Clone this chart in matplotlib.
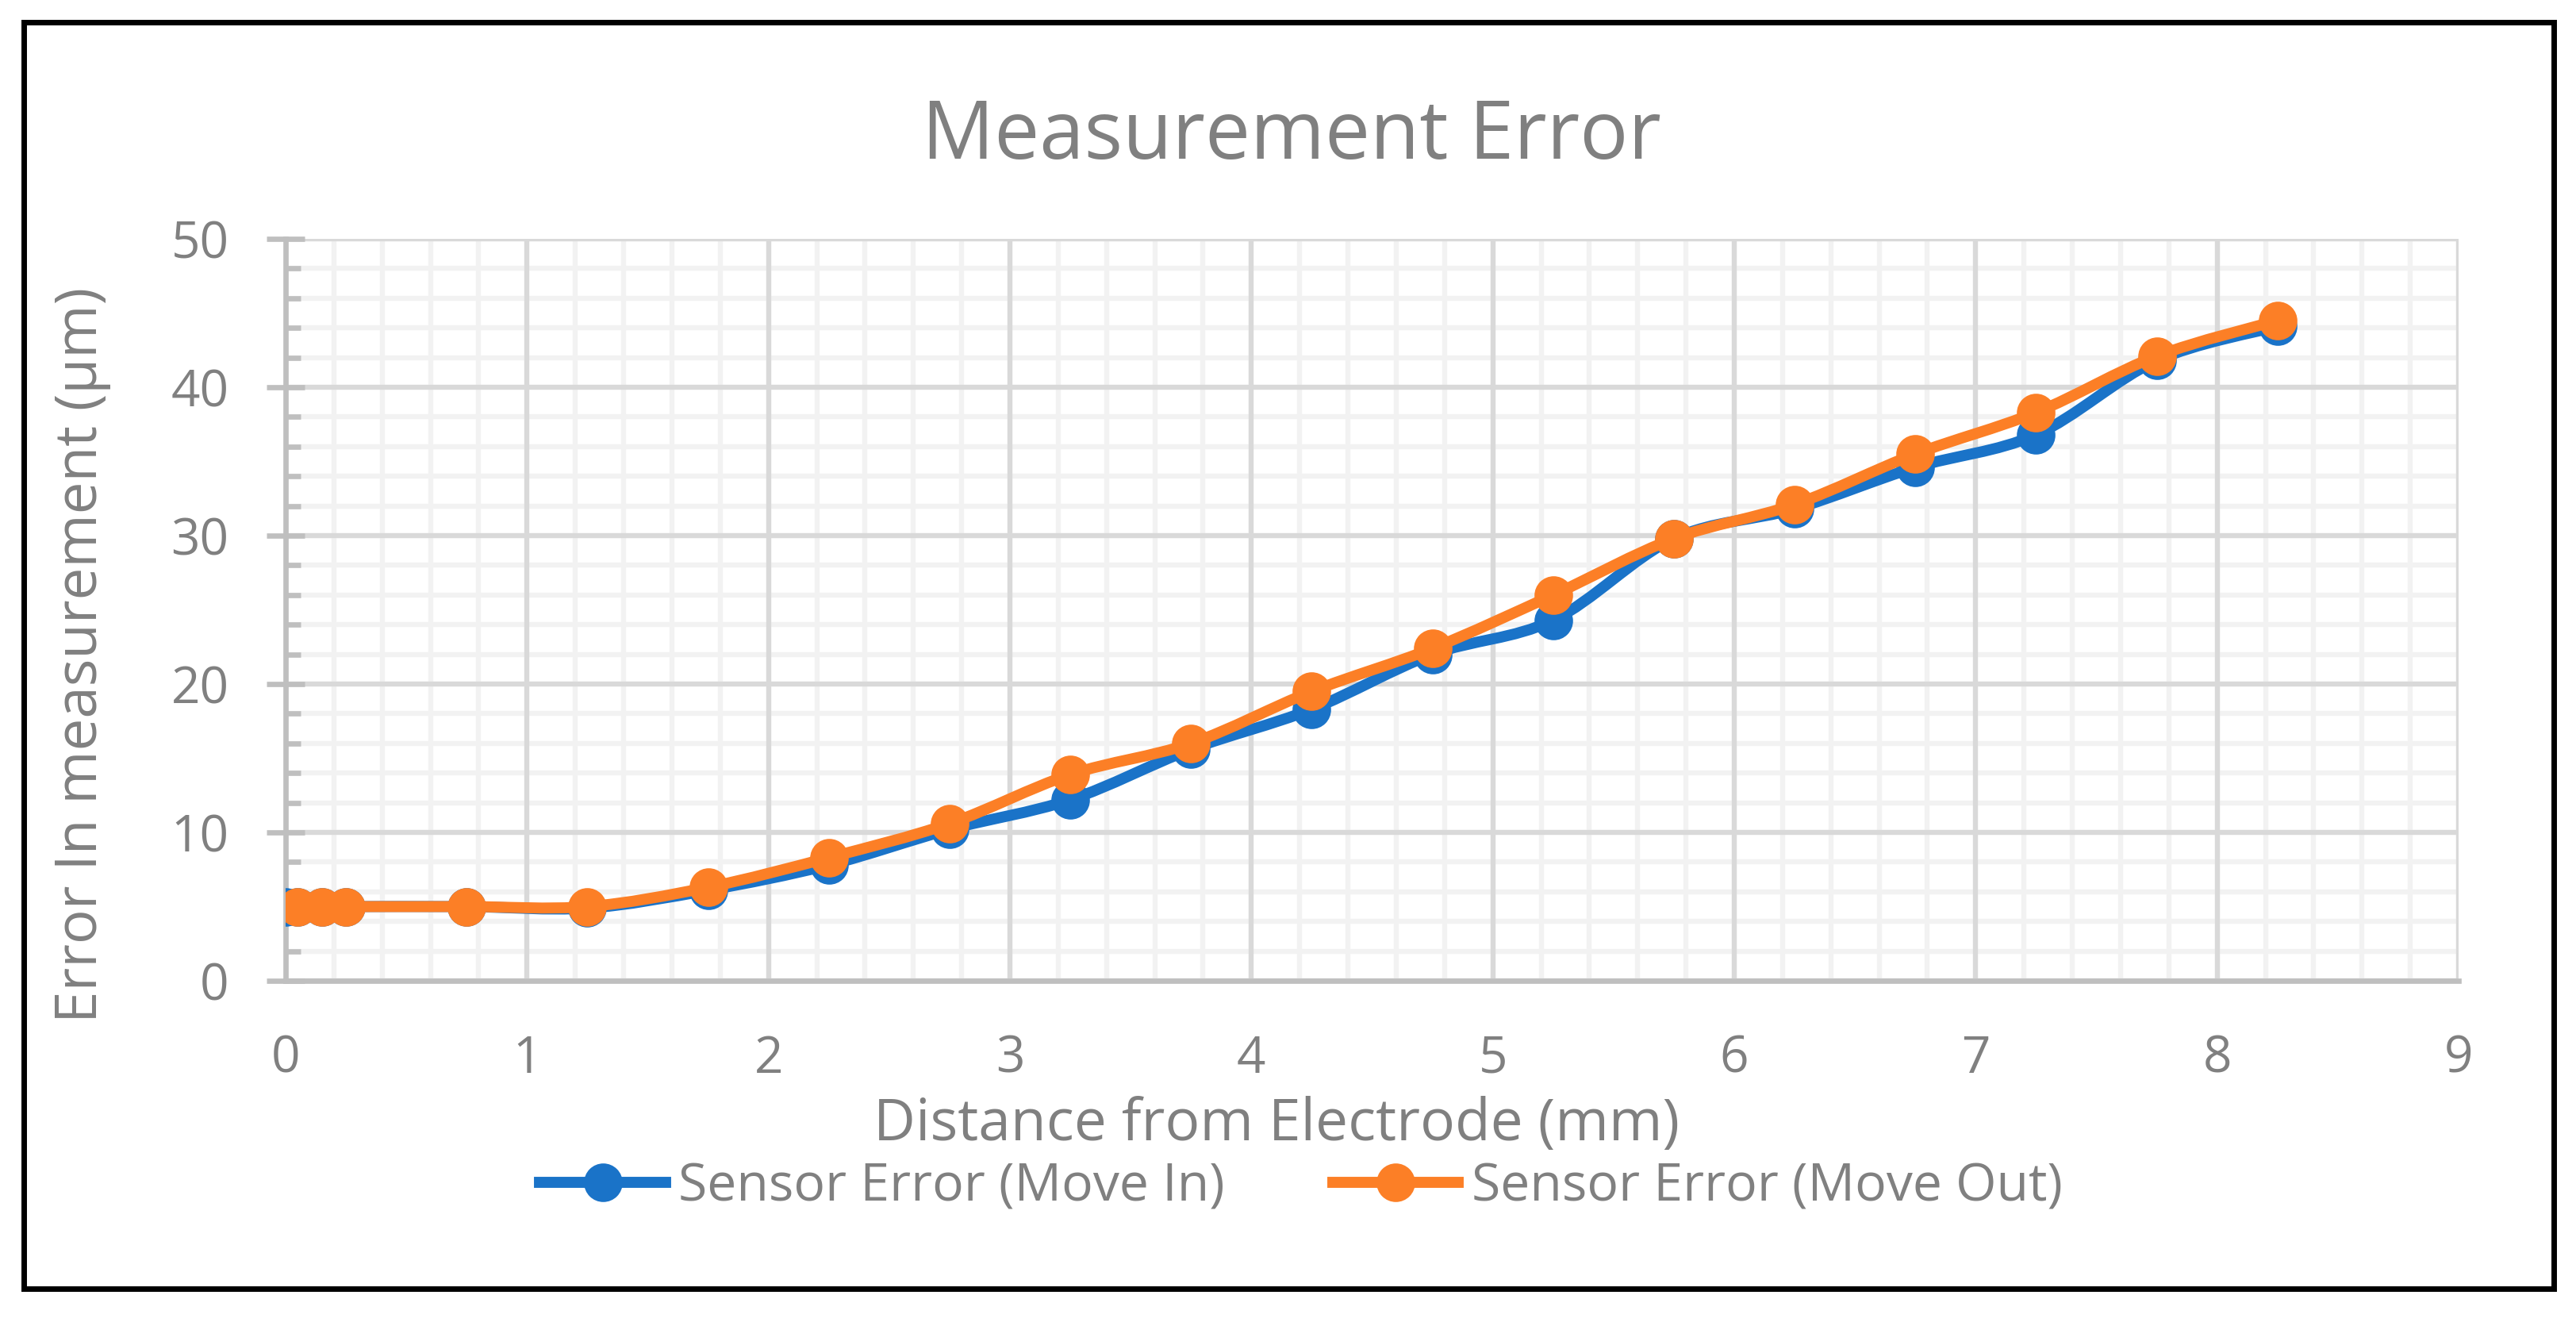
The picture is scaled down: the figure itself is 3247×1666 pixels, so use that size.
import numpy as np
import matplotlib
matplotlib.use("agg")
import matplotlib.pyplot as plt
from matplotlib.path import Path
from matplotlib.patches import PathPatch, Rectangle
from matplotlib.lines import Line2D
from matplotlib.ticker import MultipleLocator

plt.rcParams['font.family'] = ['Open Sans', 'DejaVu Sans']

# data
x_in = [0, 0.05, 0.15, 0.25, 0.75, 1.25, 1.75, 2.25, 2.75, 3.25, 3.75,
        4.25, 4.75, 5.25, 5.75, 6.25, 6.75, 7.25, 7.75, 8.25]
y_in = [5.0, 5.0, 5.0, 5.0, 5.0, 4.9, 6.1, 7.8, 10.2, 12.2, 15.6,
        18.3, 22.0, 24.3, 29.8, 31.8, 34.6, 36.8, 41.8, 44.1]
x_out = [0.05, 0.15, 0.25, 0.75, 1.25, 1.75, 2.25, 2.75, 3.25, 3.75,
         4.25, 4.75, 5.25, 5.75, 6.25, 6.75, 7.25, 7.75, 8.25]
y_out = [5.0, 5.0, 5.0, 5.0, 5.0, 6.3, 8.3, 10.6, 13.9, 16.0,
         19.5, 22.4, 26.0, 29.8, 32.1, 35.5, 38.3, 42.1, 44.5]

label_in = "Sensor Error (Move In)"
label_out = "Sensor Error (Move Out)"
blue = "#1A73C8"
orange = "#FC7F26"
gray_txt = "#808080"
axis_gray = "#BFBFBF"

W, H, DPI = 3248, 1666, 200
lw_data = 5.0
msize = 16.5


def smooth_path(x, y):
    # excel-like smoothed line: cubic bezier through the data points
    pts = np.column_stack([x, y]).astype(float)
    n = len(pts)
    verts = [pts[0]]
    codes = [Path.MOVETO]
    for i in range(n - 1):
        p0 = pts[max(i - 1, 0)]
        p1 = pts[i]
        p2 = pts[i + 1]
        p3 = pts[min(i + 2, n - 1)]
        verts += [p1 + (p2 - p0) / 6, p2 - (p3 - p1) / 6, p2]
        codes += [Path.CURVE4] * 3
    return Path(verts, codes)


fig = plt.figure(figsize=(W / DPI, H / DPI), dpi=DPI)
ax = fig.add_axes([360 / W, 1 - 1236 / H, (3099 - 360) / W, (1236 - 301) / H])

z = 3
for xs, ys, col in [(x_in, y_in, blue), (x_out, y_out, orange)]:
    ax.add_patch(PathPatch(smooth_path(xs, ys), facecolor="none", edgecolor=col,
                           lw=lw_data, capstyle="round", joinstyle="round", zorder=z))
    ax.plot(xs, ys, linestyle="none", marker="o", ms=msize, color=col,
            mec=col, mew=1, zorder=z + 0.1)
    z += 0.2

ax.set_xlim(0, 9)
ax.set_ylim(0, 50)
ax.xaxis.set_major_locator(MultipleLocator(1))
ax.xaxis.set_minor_locator(MultipleLocator(0.2))
ax.yaxis.set_major_locator(MultipleLocator(10))
ax.yaxis.set_minor_locator(MultipleLocator(2))

# gridlines drawn by hand so the major ones sit on top of the minor ones
for v in ax.xaxis.get_minorticklocs():
    ax.axvline(v, color="#F2F2F2", lw=2.3, zorder=0.5)
for v in ax.yaxis.get_minorticklocs():
    ax.axhline(v, color="#F2F2F2", lw=2.3, zorder=0.5)
for v in ax.xaxis.get_majorticklocs():
    ax.axvline(v, color="#D9D9D9", lw=2.3, zorder=0.6)
for v in ax.yaxis.get_majorticklocs():
    ax.axhline(v, color="#D9D9D9", lw=2.3, zorder=0.6)

for s in ["top", "right"]:
    ax.spines[s].set_visible(False)
for s in ["left", "bottom"]:
    ax.spines[s].set_color(axis_gray)
    ax.spines[s].set_linewidth(2.4)
    ax.spines[s].set_zorder(2)

ax.tick_params(axis="x", which="both", length=0, pad=24, labelsize=23, labelcolor=gray_txt)
ax.tick_params(axis="y", which="major", direction="inout", length=17.3, width=2.4,
               color=axis_gray, pad=17, labelsize=23, labelcolor=gray_txt)
ax.tick_params(axis="y", which="minor", direction="in", length=6.8, width=2.4,
               color=axis_gray)

fig.text(1628 / W, 1 - 200 / H, "Measurement Error", ha="center", va="baseline",
         fontsize=36.6, color=gray_txt)
fig.text(1609 / W, 1 - 1437 / H, "Distance from Electrode (mm)", ha="center",
         va="baseline", fontsize=26.3, color=gray_txt)
fig.text(103 / W, 1 - 825 / H, "Error In measurement (µm)", ha="center", va="center",
         rotation=90, fontsize=26.2, color=gray_txt)

handles = [Line2D([], [], color=blue, lw=lw_data, marker="o", ms=msize),
           Line2D([], [], color=orange, lw=lw_data, marker="o", ms=msize)]
leg = fig.legend(handles, [label_in, label_out], loc="center", ncol=2,
                 bbox_to_anchor=(1640 / W, 1 - 1496 / H), frameon=False,
                 fontsize=23.8, handlelength=2.4, handletextpad=0.25,
                 columnspacing=2.05)
for t in leg.get_texts():
    t.set_color(gray_txt)

# black frame round the whole chart
fig.patches.append(Rectangle((30.5 / W, 1 - 1623.5 / H), (3219.5 - 30.5) / W,
                             (1623.5 - 27.5) / H, transform=fig.transFigure,
                             fill=False, edgecolor="black", lw=2.5))

fig.savefig("out.png", dpi=DPI)
plt.close()
